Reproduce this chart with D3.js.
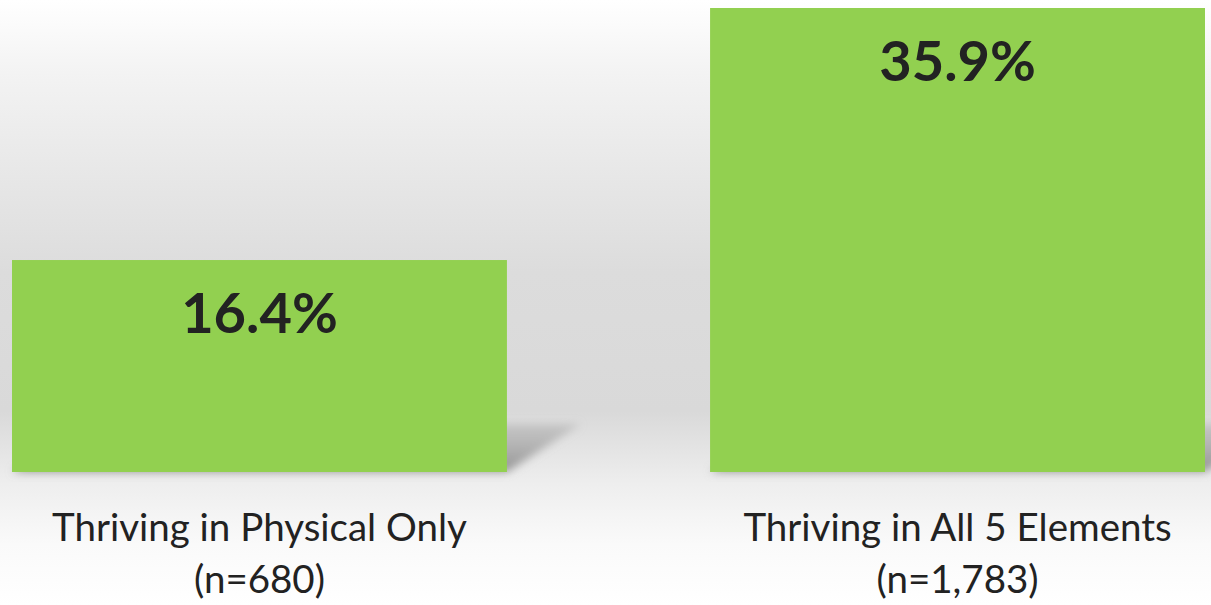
<!DOCTYPE html>
<html><head><meta charset="utf-8">
<script src="https://cdn.jsdelivr.net/npm/d3@7"></script>
<style>html,body{margin:0;padding:0;overflow:hidden;background:#fff}</style>
</head><body>
<svg id="chart" width="1211" height="605"></svg>
<script>
const categories = ["Thriving in Physical Only", "Thriving in All 5 Elements"];
const sampleSizes = ["(n=680)", "(n=1,783)"];
const values = [16.4, 35.9];
const valueLabels = ["16.4%", "35.9%"];

const W = 1211, H = 605;
const svg = d3.select("#chart");
const defs = svg.append("defs");

const bg = defs.append("linearGradient").attr("id","bg").attr("x1",0).attr("y1",0).attr("x2",0).attr("y2",1);
[[0,"#ffffff"],[0.12,"#f3f3f3"],[0.45,"#dcdcdc"],[0.68,"#d9d9d9"],[0.8,"#eeeeee"],[0.9,"#fafafa"],[1,"#ffffff"]]
  .forEach(([o,c]) => bg.append("stop").attr("offset",o).attr("stop-color",c));
svg.append("rect").attr("width",W).attr("height",H).attr("fill","url(#bg)");

const blur = defs.append("filter").attr("id","blur").attr("x","-20%").attr("y","-50%").attr("width","140%").attr("height","200%");
blur.append("feGaussianBlur").attr("stdDeviation",4);
const sg = defs.append("linearGradient").attr("id","sg").attr("x1",0).attr("y1",1).attr("x2",0).attr("y2",0);
sg.append("stop").attr("offset",0).attr("stop-color","#8e8e8e").attr("stop-opacity",0.95);
sg.append("stop").attr("offset",1).attr("stop-color","#a8a8a8").attr("stop-opacity",0.45);

const x = d3.scaleBand().domain(categories).range([12, 1205]).paddingInner(0.291).paddingOuter(0);
const y = d3.scaleLinear().domain([0, d3.max(values)]).range([472, 8]);

const data = categories.map((c,i) => ({c, v: values[i], lab: valueLabels[i], n: sampleSizes[i]}));

// shadows
svg.append("g").selectAll("path").data(data).join("path")
  .attr("d", d => {
    const x0 = x(d.c), x1 = x(d.c) + x.bandwidth(), yb = y(0);
    return `M${x0},${yb} L${x1},${yb} L${x1+74},${yb-48} L${x0+74},${yb-48} Z`;
  })
  .attr("fill","url(#sg)").attr("filter","url(#blur)");

svg.append("g").selectAll("rect").data(data).join("rect")
  .attr("x", d => x(d.c)).attr("width", x.bandwidth())
  .attr("y", d => y(d.v)).attr("height", d => y(0) - y(d.v))
  .attr("fill","#92d050");

svg.append("g").selectAll("text").data(data).join("text")
  .attr("x", d => x(d.c) + x.bandwidth()/2)
  .attr("y", d => y(d.v) + 73)
  .attr("text-anchor","middle")
  .attr("font-family","Lato, 'Open Sans', sans-serif")
  .attr("font-weight","bold").attr("font-size",56)
  .attr("fill","#222222")
  .text(d => d.lab);

const lab = svg.append("g").selectAll("g").data(data).join("g");
lab.append("text")
  .attr("x", d => x(d.c) + x.bandwidth()/2).attr("y", 541)
  .attr("text-anchor","middle")
  .attr("font-family","Lato, 'Open Sans', sans-serif").attr("font-size",38.5)
  .attr("fill","#222222").text(d => d.c);
lab.append("text")
  .attr("x", d => x(d.c) + x.bandwidth()/2).attr("y", 593)
  .attr("text-anchor","middle")
  .attr("font-family","Lato, 'Open Sans', sans-serif").attr("font-size",38.5)
  .attr("fill","#222222").text(d => d.n);
</script>
</body></html>
